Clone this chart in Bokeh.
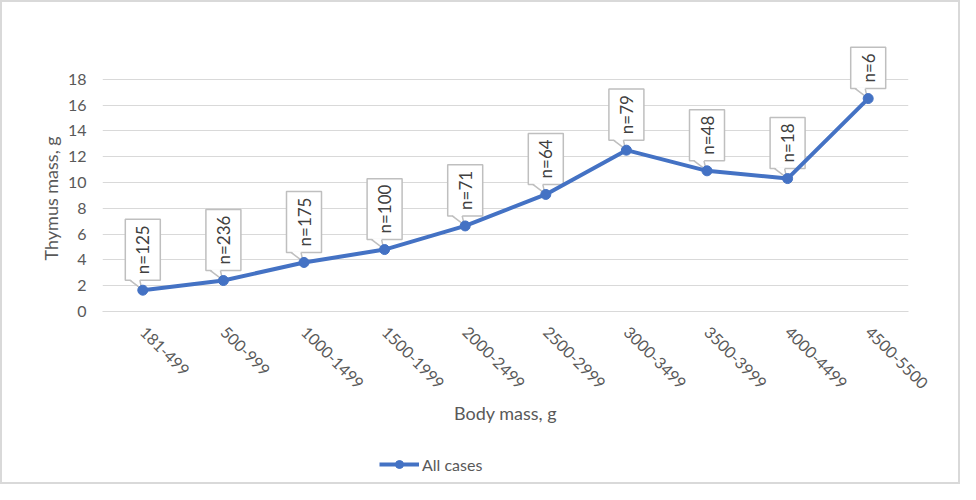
from math import pi
from bokeh.plotting import figure
from bokeh.layouts import column
from bokeh.models import ColumnDataSource, FactorRange, Range1d, FixedTicker, Title
from bokeh.core.properties import value
from bokeh.embed import file_html
from bokeh.resources import INLINE

# ---- data ----
categories = ["181-499", "500-999", "1000-1499", "1500-1999", "2000-2499",
              "2500-2999", "3000-3499", "3500-3999", "4000-4499", "4500-5500"]
thymus_mass = [1.65, 2.4, 3.8, 4.8, 6.63, 9.07, 12.5, 10.9, 10.3, 16.5]
n_cases = [125, 236, 175, 100, 71, 64, 79, 48, 18, 6]
y_ticks = [0, 2, 4, 6, 8, 10, 12, 14, 16, 18]
series_name = "All cases"
x_title = "Body mass, g"
y_title = "Thymus mass, g"

# ---- layout constants ----
W = 956            # inner width (plus 2px border each side = 960)
H_PLOT, H_LEG = 440, 40
LEFT, RIGHT, TOP = 100, 50, 20
FRAME_W = W - LEFT - RIGHT
FRAME_H = 289
BOTTOM = H_PLOT - TOP - FRAME_H
PX_PER_G = 232.3 / 18.0
PX_PER_CAT = FRAME_W / len(categories)
Y_END = FRAME_H / PX_PER_G

FONT = "Lato"
TXT = "#595959"
BLUE = "#4472C4"
GRID = "#D9D9D9"
BOX = "#BFBFBF"

x_range = FactorRange(factors=categories, range_padding=0)
p = figure(width=W, height=H_PLOT, x_range=x_range,
           y_range=Range1d(0, Y_END), output_backend="svg", toolbar_location=None,
           min_border_left=LEFT, min_border_right=RIGHT, min_border_top=TOP,
           min_border_bottom=BOTTOM)
p.outline_line_color = None
p.background_fill_color = "white"

# axes
p.yaxis.ticker = FixedTicker(ticks=y_ticks)
p.yaxis.axis_line_color = None
p.yaxis.major_tick_line_color = None
p.yaxis.major_tick_out = 0
p.yaxis.minor_tick_line_color = None
p.yaxis.major_label_standoff = 16
p.yaxis.major_label_text_font = FONT
p.yaxis.major_label_text_font_size = "16px"
p.yaxis.major_label_text_color = TXT

p.xaxis.axis_line_color = GRID
p.xaxis.axis_line_width = 1
p.xaxis.major_tick_line_color = None
p.xaxis.major_tick_out = 0
p.xaxis.minor_tick_line_color = None
p.xaxis.major_label_orientation = -pi / 4
p.xaxis.major_label_standoff = 18
p.xaxis.major_label_text_font = FONT
p.xaxis.major_label_text_font_size = "16px"
p.xaxis.major_label_text_color = TXT
p.xaxis.axis_label = x_title
p.xaxis.axis_label_text_font = FONT
p.xaxis.axis_label_text_font_size = "18px"
p.xaxis.axis_label_text_font_style = "normal"
p.xaxis.axis_label_text_color = TXT
p.xaxis.axis_label_standoff = 5

p.xgrid.grid_line_color = None
p.ygrid.grid_line_color = GRID
p.ygrid.grid_line_width = 1

# y axis title, centred on the gridded area (not on the whole frame)
p.add_layout(Title(text=y_title, align="left", offset=51, standoff=6,
                   text_font=FONT, text_font_size="18px", text_font_style="normal",
                   text_color=TXT), "left")

# callout boxes
src = ColumnDataSource(dict(x=categories, y=thymus_mass, lab=[f"n={n}" for n in n_cases]))
p.text(x="x", y="y", text="lab", source=src, angle=pi / 2, text_align="left",
       text_baseline="middle", y_offset=-10, text_font=value(FONT), text_font_size="17px",
       text_color="#404040", background_fill_color="white", border_line_color=BOX,
       border_line_width=1.5, padding=(6, 7))

# callout tails
tail_fill_xs, tail_fill_ys, tail_xs, tail_ys = [], [], [], []
for i, v in enumerate(thymus_mass):
    cx = i + 0.5
    xl, xr, xt = cx - 13 / PX_PER_CAT, cx - 3 / PX_PER_CAT, cx - 1 / PX_PER_CAT
    yb_fill = v + 11.2 / PX_PER_G
    yb = v + 10 / PX_PER_G
    yt = v + 1 / PX_PER_G
    tail_fill_xs.append([xl, xr, xt])
    tail_fill_ys.append([yb_fill, yb_fill, yt])
    tail_xs.append([xl, xt, xr])
    tail_ys.append([yb, yt, yb])
p.patches(tail_fill_xs, tail_fill_ys, fill_color="white", line_color=None)
p.multi_line(tail_xs, tail_ys, line_color=BOX, line_width=1.5)

# series
line_src = ColumnDataSource(dict(x=categories, y=thymus_mass))
line_style = dict(line_color=BLUE, line_width=4, line_join="round")
marker_style = dict(size=10, fill_color=BLUE, line_color=BLUE)
p.line("x", "y", source=line_src, **line_style)
p.scatter("x", "y", source=line_src, **marker_style)

# ---- legend strip: same series, y window chosen so only its legend shows ----
q = figure(width=W, height=H_LEG, x_range=x_range, y_range=Range1d(100, 101),
           output_backend="svg", toolbar_location=None, x_axis_location=None,
           y_axis_location=None, min_border=0, min_border_left=0, min_border_right=0,
           min_border_top=0, min_border_bottom=0)
q.grid.visible = False
q.outline_line_color = None
q.line("x", "y", source=line_src, legend_label=series_name, **line_style)
q.scatter("x", "y", source=line_src, legend_label=series_name, **marker_style)
q.legend.location = (277, 8)
q.legend.orientation = "horizontal"
q.legend.glyph_width = 40
q.legend.glyph_height = 20
q.legend.label_standoff = 3
q.legend.padding = 0
q.legend.margin = 0
q.legend.border_line_color = None
q.legend.background_fill_alpha = 0
q.legend.label_text_font = FONT
q.legend.label_text_font_size = "16px"
q.legend.label_text_color = TXT

layout = column(p, q, spacing=0)
layout.styles = {"border": "2px solid #D9D9D9", "background-color": "white"}

open("out.html", "w").write(file_html(layout, INLINE))
